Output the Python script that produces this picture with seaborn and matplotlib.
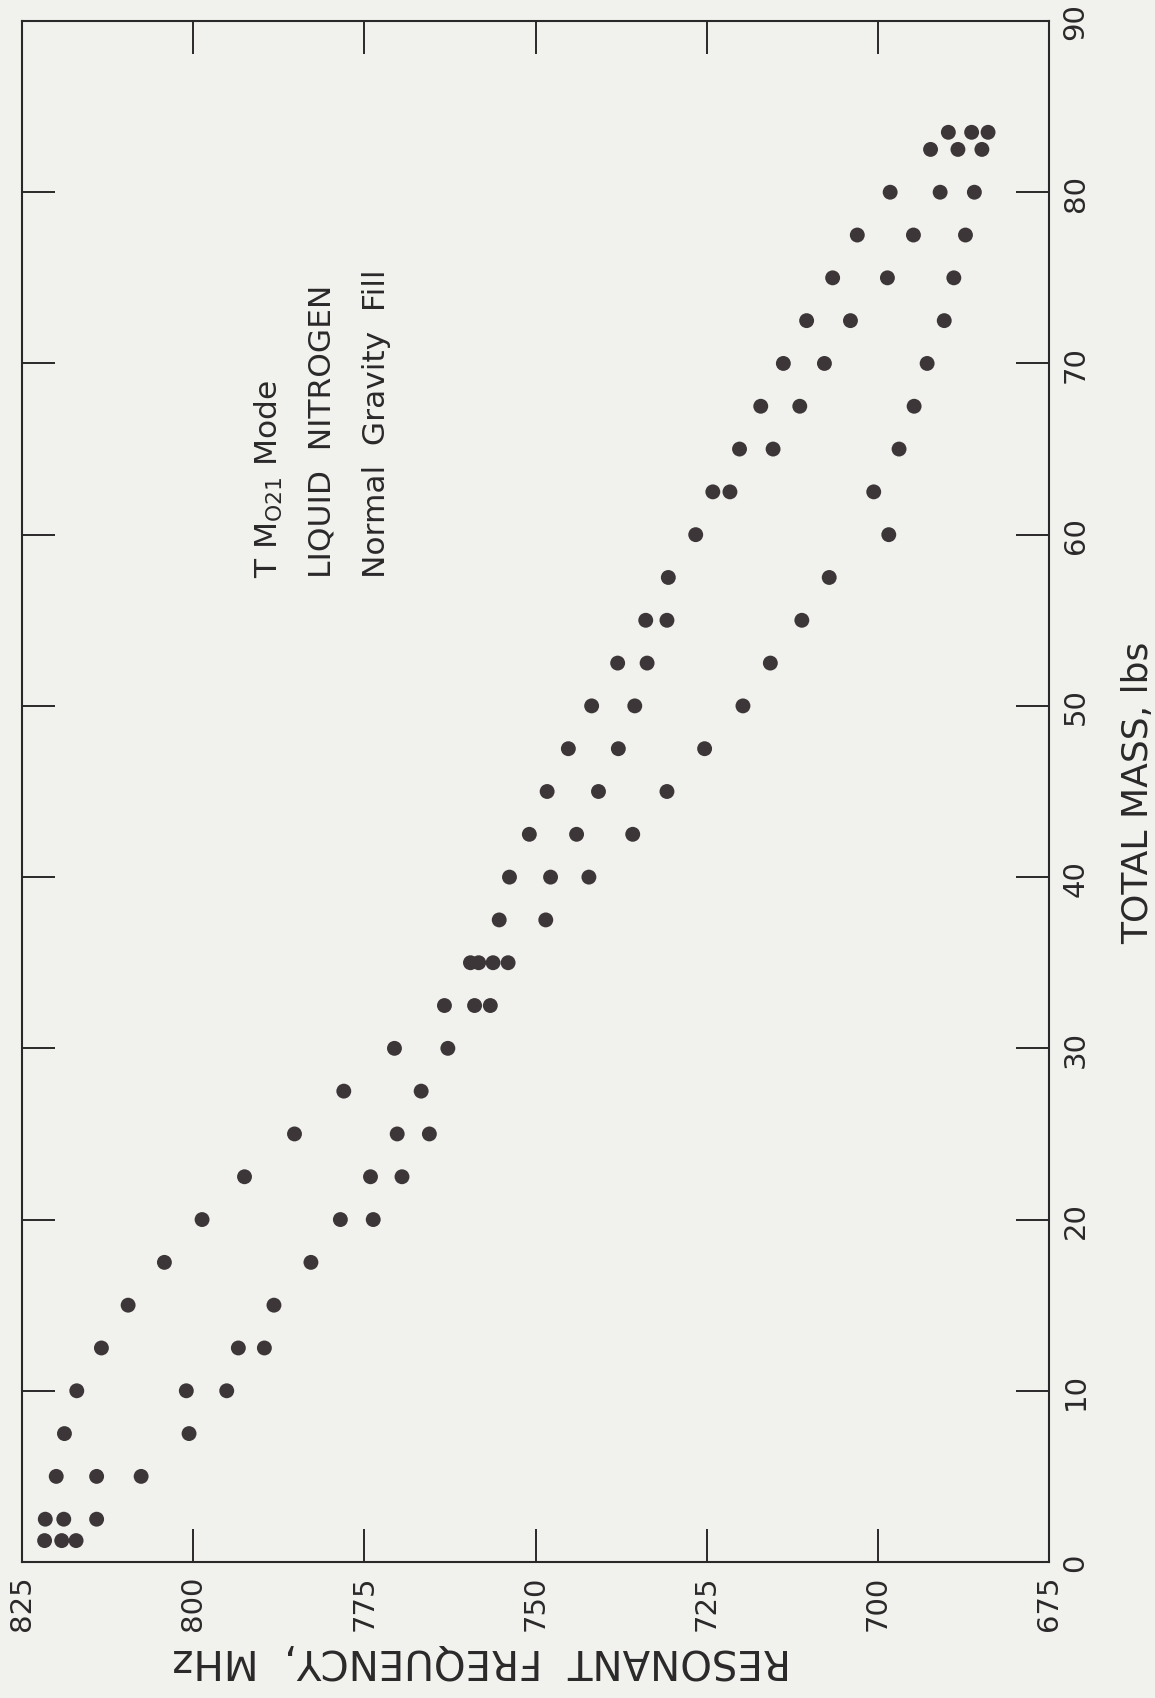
import matplotlib
matplotlib.use("Agg")
import matplotlib.pyplot as plt
import pandas as pd
import seaborn as sns

# Total mass (lbs) of each reading and the measured resonant frequency (MHz)
mass_lbs = [
    1.25, 1.25, 1.25,
    2.5, 2.5, 2.5,
    5, 5, 5,
    7.5, 7.5,
    10, 10, 10,
    12.5, 12.5, 12.5,
    15, 15,
    17.5, 17.5,
    20, 20, 20,
    22.5, 22.5, 22.5,
    25, 25, 25,
    27.5, 27.5,
    30, 30,
    32.5, 32.5, 32.5,
    35, 35, 35, 35,
    37.5, 37.5,
    40, 40, 40,
    42.5, 42.5, 42.5,
    45, 45, 45,
    47.5, 47.5, 47.5,
    50, 50, 50,
    52.5, 52.5, 52.5,
    55, 55, 55,
    57.5, 57.5,
    60, 60,
    62.5, 62.5, 62.5,
    65, 65, 65,
    67.5, 67.5, 67.5,
    70, 70, 70,
    72.5, 72.5, 72.5,
    75, 75, 75,
    77.5, 77.5, 77.5,
    80, 80, 80,
    82.5, 82.5, 82.5,
    83.5, 83.5, 83.5,
]
freq_mhz = [
    821.7, 819.2, 817.1,
    821.6, 818.9, 814.1,
    820.0, 814.1, 807.6,
    818.8, 800.6,
    817.0, 801.0, 795.1,
    813.4, 793.4, 789.6,
    809.5, 788.2,
    804.2, 782.8,
    798.7, 778.5, 773.7,
    792.5, 774.1, 769.5,
    785.2, 770.2, 765.5,
    778.0, 766.7,
    770.6, 762.8,
    763.3, 758.9, 756.6,
    759.5, 758.3, 756.2, 754.0,
    755.3, 748.5,
    753.8, 747.8, 742.2,
    750.9, 744.0, 735.8,
    748.3, 740.8, 730.8,
    745.2, 737.9, 725.3,
    741.8, 735.5, 719.7,
    738.0, 733.7, 715.7,
    733.9, 730.8, 711.1,
    730.6, 707.1,
    726.6, 698.4,
    724.1, 721.6, 700.6,
    720.2, 715.3, 696.9,
    717.1, 711.4, 694.7,
    713.8, 707.8, 692.8,
    710.4, 704.0, 690.3,
    706.6, 698.6, 688.9,
    703.0, 694.8, 687.2,
    698.2, 690.9, 685.9,
    692.3, 688.3, 684.8,
    689.7, 686.3, 683.9,
]

mass_ticks = [0, 10, 20, 30, 40, 50, 60, 70, 80, 90]
freq_ticks = [825, 800, 775, 750, 725, 700, 675]

note_lines = [r"T M$_{\mathregular{O21}}$ Mode", "LIQUID  NITROGEN", "Normal  Gravity  Fill"]

df = pd.DataFrame({"freq": freq_mhz, "mass": mass_lbs})

sns.set_theme(style="ticks")
plt.rcParams["font.family"] = ["DejaVu Sans"]

bg = "#f1f1ee"
ink = "#2b2829"
dot = "#3d3639"

W, H = 1155, 1699
fig = plt.figure(figsize=(W / 100, H / 100), dpi=100, facecolor=bg)
ax = fig.add_axes([22 / W, 1 - 1563 / H, 1027 / W, 1541 / H])
ax.set_facecolor(bg)

# Page is turned on its side: frequency runs along the horizontal (decreasing),
# mass runs up the vertical with its scale on the right.
sns.scatterplot(data=df, x="freq", y="mass", ax=ax, s=115, color=dot,
                edgecolor="none", legend=False)

ax.set_xlim(825, 675)
ax.set_ylim(0, 90)
ax.set_xticks(freq_ticks)
ax.set_yticks(mass_ticks)

ax.tick_params(direction="in", length=24, width=1.4, color=ink,
               top=True, bottom=True, left=True, right=True,
               labelleft=False, labelright=True, labeltop=False, labelbottom=True,
               labelsize=21, labelcolor=ink)
ax.tick_params(axis="x", pad=9, labelrotation=90)
ax.tick_params(axis="y", pad=9, labelrotation=90)
for lbl in ax.get_yticklabels():
    lbl.set_va("center")
    lbl.set_ha("left")

for sp in ax.spines.values():
    sp.set_visible(True)
    sp.set_linewidth(1.5)
    sp.set_color(ink)

ax.set_xlabel("RESONANT  FREQUENCY,  MHz", fontsize=29, color=ink,
              rotation=180, ha="center", va="center")
ax.xaxis.set_label_coords(0.448, -0.063)

ax.yaxis.set_label_position("right")
ax.set_ylabel("TOTAL MASS, lbs", fontsize=26, color=ink,
              rotation=90, ha="center", va="center")
ax.yaxis.set_label_coords(1.087, 0.5)

for xpos, line in zip([0.2405, 0.292, 0.345], note_lines):
    ax.text(xpos, 0.639, line, transform=ax.transAxes, rotation=90,
            ha="center", va="bottom", fontsize=22.5, color=ink)

fig.savefig("out.png", dpi=100, facecolor=bg)
